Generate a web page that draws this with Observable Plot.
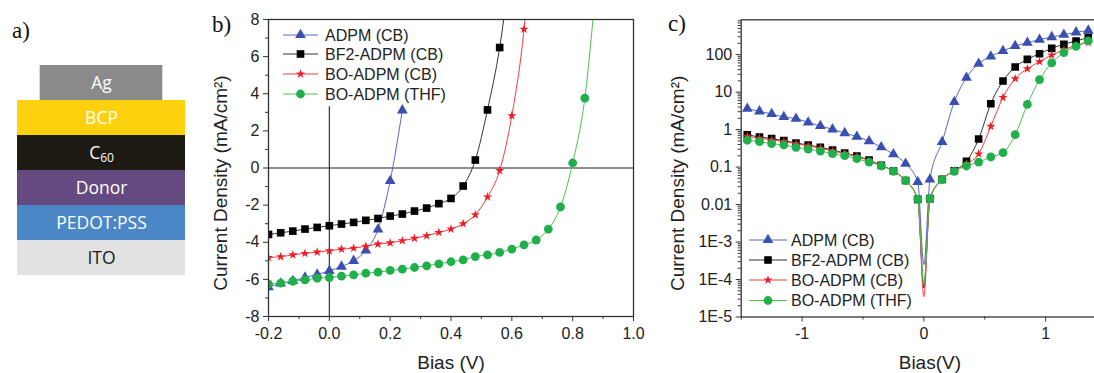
<!DOCTYPE html>
<html><head><meta charset="utf-8">
<script src="https://cdn.jsdelivr.net/npm/d3@7"></script>
<script src="https://cdn.jsdelivr.net/npm/@observablehq/plot@0.6"></script>
<style>
body{margin:0;background:#fff;}
#fig{position:relative;width:1094px;height:373px;overflow:hidden;background:#fff;font-family:"Liberation Sans",Arial,sans-serif;}
.panel{position:absolute;top:0;}
#overlay{position:absolute;left:0;top:0;pointer-events:none;}
</style></head><body><div id="fig"></div>
<script>
// ---------- DATA ----------
// panel a: device stack (top to bottom)
const layerNames = ["Ag", "BCP", "C60", "Donor", "PEDOT:PSS", "ITO"];
const layerCoverage = [0.73, 1, 1, 1, 1, 1]; // fraction of substrate width covered

// series
const seriesNames = ["ADPM (CB)", "BF2-ADPM (CB)", "BO-ADPM (CB)", "BO-ADPM (THF)"];

// panel b: J-V under illumination (V, mA/cm2)
const biasB = [-0.2,-0.16,-0.12,-0.08,-0.04,0,0.04,0.08,0.12,0.16,0.2,0.24,0.28,0.32,0.36,0.4,0.44,0.48,0.52,0.56,0.6,0.64,0.68,0.72,0.76,0.8,0.84,0.88];
const jADPM_b  = [-6.42,-6.22,-6.08,-5.90,-5.74,-5.54,-5.31,-5.00,-4.44,-3.31,-0.70,3.11];
const jBF2_b   = [-3.58,-3.49,-3.40,-3.29,-3.20,-3.11,-3.02,-2.93,-2.82,-2.72,-2.59,-2.48,-2.32,-2.16,-1.92,-1.64,-0.97,0.43,3.13,6.49,11.5];
const jBOCB_b  = [-4.82,-4.78,-4.68,-4.60,-4.53,-4.46,-4.37,-4.32,-4.21,-4.10,-4.03,-3.92,-3.79,-3.65,-3.47,-3.29,-3.00,-2.52,-1.56,-0.14,2.82,7.48,16];
const jBOTHF_b = [-6.26,-6.20,-6.10,-6.03,-5.94,-5.90,-5.83,-5.76,-5.67,-5.61,-5.52,-5.45,-5.36,-5.27,-5.16,-5.05,-4.95,-4.77,-4.68,-4.55,-4.37,-4.14,-3.88,-3.29,-2.10,0.27,3.76,10.5];
const xTicksB = [-0.2,0,0.2,0.4,0.6,0.8,1.0];
const xMinorB = [-0.1,0.1,0.3,0.5,0.7,0.9];
const yTicksB = [-8,-6,-4,-2,0,2,4,6,8];
const yMinorB = [-7,-5,-3,-1,1,3,5,7];

// panel c: dark J-V, |J| on log axis
const biasC = [-1.45,-1.35,-1.25,-1.15,-1.05,-0.95,-0.85,-0.75,-0.65,-0.55,-0.45,-0.35,-0.25,-0.15,-0.05,0,0.05,0.15,0.25,0.35,0.45,0.55,0.65,0.75,0.85,0.95,1.05,1.15,1.25,1.35];
const jADPM_c  = [3.62,3.07,2.61,2.17,1.96,1.56,1.25,1.02,0.81,0.65,0.49,0.34,0.22,0.123,0.040,0.00025,0.047,0.47,5.5,24.3,57.5,90,125,170,209,251,295,340,394,440];
const jBF2_c   = [0.73,0.635,0.573,0.507,0.44,0.388,0.336,0.285,0.237,0.197,0.154,0.111,0.0785,0.044,0.0138,0.00006,0.0144,0.047,0.08,0.142,0.56,4.9,19.8,46.9,75,106,147,189,232,285];
const jBOCB_c  = [0.66,0.59,0.53,0.48,0.42,0.37,0.32,0.27,0.23,0.19,0.15,0.111,0.0785,0.044,0.0138,0.000035,0.0144,0.047,0.08,0.12,0.225,1.22,7.2,22.9,42,65,97,135,175,210];
const jBOTHF_c = [0.52,0.477,0.42,0.388,0.336,0.303,0.268,0.228,0.201,0.168,0.136,0.107,0.077,0.0434,0.0138,0.00008,0.0144,0.046,0.077,0.107,0.136,0.186,0.242,0.73,4.7,21.5,60,113,167,232];
const xTicksC = [-1,0,1];
const xMinorC = [-1.5,-0.5,0.5,1.5];
const yTicksC = [1e-5,1e-4,1e-3,0.01,0.1,1,10,100];

// ---------- STYLE ----------
const seriesB = [jADPM_b, jBF2_b, jBOCB_b, jBOTHF_b];
const seriesC = [jADPM_c, jBF2_c, jBOCB_c, jBOTHF_c];
const sty = [
  {line:"#5566c8", mark:"#3a4fb2", symbol:"triangle", r:4.0},
  {line:"#333333", mark:"#000000", symbol:"square",   r:4.3},
  {line:"#f23a3c", mark:"#ee1c24", symbol:"star",     r:2.9},
  {line:"#4cbf4f", mark:"#1fb04b", symbol:"circle",   r:4.4}
];
const layerFill = ["#8a8a8a","#fdd10e","#1c1a12","#654a81","#4b86c6","#e2e2e2"];
const layerText = ["#ffffff","#ffffff","#ffffff","#ffffff","#ffffff","#1a1a1a"];
const axisStroke = "#333";
const fontFam = "Liberation Sans, Arial, sans-serif";

const fig = document.getElementById("fig");
function place(el, left){ el.classList.add("panel"); el.style.left = left + "px"; fig.appendChild(el); }

// ---------- PANEL A ----------
const layers = layerNames.map((n,i)=>({name:n, x1:(1-layerCoverage[i])/2, x2:1-(1-layerCoverage[i])/2, fill:layerFill[i], tc:layerText[i]}));
const pa = Plot.plot({
  width: 200, height: 290,
  marginTop: 65, marginBottom: 15, marginLeft: 17, marginRight: 15,
  x: {domain:[0,1], axis:null},
  y: {type:"band", domain: layerNames, padding:0, axis:null},
  style: {fontFamily:"Open Sans, Noto Sans, sans-serif", fontSize:"17.5px", background:"transparent"},
  marks: [
    Plot.barX(layers, {y:"name", x1:"x1", x2:"x2", fill: d=>d.fill}),
    Plot.text(layers, {y:"name", x: 0.5, text:"name", fill: d=>d.tc, fontSize:17.5})
  ]
});
place(pa, 0);
// subscript for C60
d3.select(pa).selectAll("text").filter(function(){ return this.textContent === "C60"; }).each(function(){
  const t = d3.select(this); t.text(""); t.append("tspan").text("C");
  t.append("tspan").attr("dy","0.3em").attr("font-size","12px").text("60");
});

// ---------- PANEL B ----------
const tickFmt1 = d => d.toFixed(1);
const marksB = [
  Plot.ruleY([0], {stroke:"#222", strokeWidth:1.1}),
  Plot.ruleX([0], {y1:-8, y2:3.3, stroke:"#222", strokeWidth:1.1})
];
seriesB.forEach((vals,k)=>{
  const data = vals.map((v,i)=>({x:biasB[i], y:v}));
  marksB.push(Plot.line(data, {x:"x", y:"y", stroke:sty[k].line, strokeWidth:1, curve:"monotone-x", clip:true}));
  marksB.push(Plot.dot(data, {x:"x", y:"y", symbol:sty[k].symbol, fill:sty[k].mark, stroke:"none", r:sty[k].r, clip:true}));
});
marksB.push(
  Plot.axisX({ticks:xTicksB, tickSize:5, tickPadding:6, tickFormat:tickFmt1, stroke:axisStroke, label:null, fontSize:16}),
  Plot.axisX({ticks:xMinorB, tickSize:3, tickFormat:()=>"", stroke:axisStroke, label:null}),
  Plot.axisY({ticks:yTicksB, tickSize:5, tickPadding:4, tickFormat:d=>String(d), stroke:axisStroke, label:null, fontSize:16}),
  Plot.axisY({ticks:yMinorB, tickSize:3, tickFormat:()=>"", stroke:axisStroke, label:null}),
  Plot.frame({stroke:axisStroke, strokeWidth:1.3}),
  Plot.text(["Current Density (mA/cm²)"], {text:d=>d, frameAnchor:"left", rotate:-90, dx:-48, dy:15, fontSize:19, textAnchor:"middle", lineAnchor:"middle", fill:"#222"}),
  Plot.text(["Bias (V)"], {text:d=>d, frameAnchor:"bottom", dy:46, fontSize:19, textAnchor:"middle", lineAnchor:"middle", fill:"#222"})
);
const pb = Plot.plot({
  width: 450, height: 373,
  marginLeft: 68, marginRight: 17, marginTop: 19, marginBottom: 57,
  x: {domain:[-0.2,1.0]},
  y: {domain:[-8,8]},
  style: {fontFamily:fontFam, fontSize:"16px", color:"#222", background:"transparent"},
  marks: marksB
});
place(pb, 200);

// ---------- PANEL C ----------
const fmtLog = d => d >= 0.01 ? String(d) : "1E-" + Math.round(-Math.log10(d));
const minorC = [];
for (let e = -5; e <= 2; e++) for (let m = 2; m <= 9; m++) { const v = m * Math.pow(10, e); if (v <= 850) minorC.push(v); }
const marksC = [];
seriesC.forEach((vals,k)=>{
  const data = vals.map((v,i)=>({x:biasC[i], y:v}));
  marksC.push(Plot.line(data, {x:"x", y:"y", stroke:sty[k].line, strokeWidth:1, curve:"monotone-x", clip:true}));
  marksC.push(Plot.dot(data.filter(d=>d.x !== 0), {x:"x", y:"y", symbol:sty[k].symbol, fill:sty[k].mark, stroke:"none", r:sty[k].r, clip:true}));
});
marksC.push(
  Plot.axisX({ticks:xTicksC, tickSize:5, tickPadding:6, tickFormat:d=>String(d), stroke:axisStroke, label:null, fontSize:16}),
  Plot.axisX({ticks:xMinorC, tickSize:3, tickFormat:()=>"", stroke:axisStroke, label:null}),
  Plot.axisY({ticks:yTicksC, tickSize:5, tickPadding:4, tickFormat:fmtLog, stroke:axisStroke, label:null, fontSize:16}),
  Plot.axisY({ticks:minorC, tickSize:3, tickFormat:()=>"", stroke:axisStroke, label:null}),
  Plot.frame({stroke:axisStroke, strokeWidth:1.3}),
  Plot.text(["Current Density (mA/cm²)"], {text:d=>d, frameAnchor:"left", rotate:-90, dx:-63, dy:15, fontSize:19, textAnchor:"middle", lineAnchor:"middle", fill:"#222"}),
  Plot.text(["Bias(V)"], {text:d=>d, frameAnchor:"bottom", dx:6, dy:46, fontSize:19, textAnchor:"middle", lineAnchor:"middle", fill:"#222"})
);
const pc = Plot.plot({
  width: 447, height: 373,
  marginLeft: 80.7, marginRight: 1, marginTop: 19.3, marginBottom: 56.5,
  x: {domain:[-1.5,1.5]},
  y: {type:"log", domain:[1e-5,850]},
  style: {fontFamily:fontFam, fontSize:"16px", color:"#222", background:"transparent"},
  marks: marksC
});
place(pc, 660);

// ---------- LEGENDS + PANEL TAGS ----------
const ov = d3.select(fig).append("svg").attr("id","overlay").attr("width",1094).attr("height",373)
  .style("font-family", fontFam);
const symMap = {triangle:d3.symbolTriangle, square:d3.symbolSquare, star:d3.symbolStar, circle:d3.symbolCircle};
function legend(x0, x1, xm, xt, rowsY){
  seriesNames.forEach((name,k)=>{
    const y = rowsY[k];
    ov.append("line").attr("x1",x0).attr("x2",x1).attr("y1",y).attr("y2",y).attr("stroke",sty[k].line).attr("stroke-width",1);
    ov.append("path").attr("transform",`translate(${xm},${y})`)
      .attr("d", d3.symbol(symMap[sty[k].symbol], Math.PI*sty[k].r*sty[k].r)()).attr("fill",sty[k].mark);
    ov.append("text").attr("x",xt).attr("y",y).attr("dy","0.35em").attr("font-size",16).attr("fill","#222").text(name);
  });
}
legend(283, 318, 300.5, 325, [35,54,74,94]);
legend(749, 787, 768, 791, [240,260,280,300.5]);
[["a)",12,37.5],["b)",212,31.5],["c)",668,31]].forEach(([t,x,y])=>{
  ov.append("text").attr("x",x).attr("y",y).attr("font-family","Liberation Serif, Times New Roman, serif")
    .attr("font-size",23).attr("fill","#111").text(t);
});
</script></body></html>
